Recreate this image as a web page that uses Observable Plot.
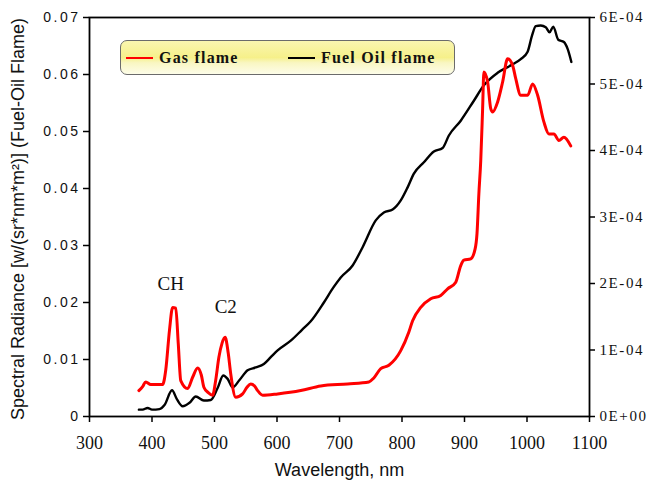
<!DOCTYPE html>
<html>
<head>
<meta charset="utf-8">
<script src="https://cdn.jsdelivr.net/npm/d3@7"></script>
<script src="https://cdn.jsdelivr.net/npm/@observablehq/plot@0.6"></script>
<style>
  body { margin: 0; background: #fff; }
  #wrap { position: relative; width: 647px; height: 490px; }
  .legend {
    position: absolute; left: 120px; top: 40px; width: 333px; height: 33px;
    border: 1.5px solid #6b6b6b; border-radius: 7px;
    background: linear-gradient(to bottom, #faf6b0 0%, #f6f08a 50%, #f9f6c2 66%, #fdfde9 100%);
    font-family: "Liberation Serif", serif; font-weight: bold; font-size: 16px; letter-spacing: 1.2px;
    color: #111;
  }
  .legend .item { position: absolute; top: 0; height: 33px; display: flex; align-items: center; white-space: nowrap; }
  .legend .swatch { display: inline-block; width: 27px; height: 0; border-top: 2.5px solid; margin-right: 6px; }
</style>
</head>
<body>
<div id="wrap"></div>
<script>
// Fuel-oil flame spectrum (left axis, w/(sr*nm*m^2))
const fuelWavelength = [379, 385, 393, 400, 412, 420, 432, 440, 449, 460, 470, 483, 494, 505, 514, 521, 529, 540, 553, 566,
  579, 590, 601, 622, 640, 654, 675, 690, 702, 721, 737, 758, 771, 785, 798, 809, 819, 835, 851, 865,
  875, 894, 915, 931, 953, 974, 990, 1001, 1008, 1014, 1022, 1030, 1036, 1042, 1050, 1059, 1065, 1071];
const fuelRadiance = [0.0012, 0.0012, 0.0015, 0.0012, 0.0013, 0.0020, 0.0046, 0.0030, 0.0018, 0.0024, 0.0035, 0.0028, 0.0029, 0.0050, 0.0072, 0.0066, 0.0051, 0.0064, 0.0081, 0.0086,
  0.0092, 0.0104, 0.0116, 0.0133, 0.0152, 0.0167, 0.0200, 0.0226, 0.0244, 0.0265, 0.0297, 0.0344, 0.0358, 0.0363, 0.0379, 0.0402, 0.0426, 0.0446, 0.0465, 0.0471,
  0.0493, 0.0519, 0.0554, 0.0581, 0.0603, 0.0616, 0.0627, 0.0640, 0.0668, 0.0685, 0.0686, 0.0683, 0.0674, 0.0684, 0.0661, 0.0657, 0.0645, 0.0622];

// Gas flame spectrum (right axis)
const gasWavelength = [379, 385, 390, 398, 417, 422, 428, 433, 438, 442, 446, 457, 465, 473, 479, 483, 490, 497, 502, 507,
  512, 517, 522, 526, 534, 545, 552, 558, 564, 569, 577, 601, 638, 670, 713, 747, 755, 766, 779, 798,
  811, 817, 830, 846, 862, 873, 886, 894, 899, 910, 917, 920, 923, 926, 929, 931, 937, 942, 945, 953,
  961, 969, 977, 982, 990, 1001, 1009, 1017, 1027, 1035, 1043, 1051, 1059, 1070];
const gasRadiance = [0.39e-4, 0.45e-4, 0.52e-4, 0.48e-4, 0.48e-4, 0.70e-4, 1.30e-4, 1.64e-4, 1.63e-4, 1.10e-4, 0.54e-4, 0.42e-4, 0.59e-4, 0.73e-4, 0.62e-4, 0.44e-4, 0.36e-4, 0.32e-4, 0.55e-4, 0.89e-4,
  1.10e-4, 1.19e-4, 0.95e-4, 0.64e-4, 0.29e-4, 0.34e-4, 0.44e-4, 0.49e-4, 0.46e-4, 0.39e-4, 0.32e-4, 0.34e-4, 0.39e-4, 0.46e-4, 0.49e-4, 0.52e-4, 0.58e-4, 0.72e-4, 0.77e-4, 0.99e-4,
  1.27e-4, 1.44e-4, 1.64e-4, 1.77e-4, 1.82e-4, 1.92e-4, 2.02e-4, 2.27e-4, 2.35e-4, 2.37e-4, 2.52e-4, 2.75e-4, 3.35e-4, 3.85e-4, 4.63e-4, 5.18e-4, 5.03e-4, 4.63e-4, 4.58e-4, 4.73e-4,
  5.03e-4, 5.38e-4, 5.28e-4, 5.08e-4, 4.83e-4, 4.83e-4, 5.00e-4, 4.83e-4, 4.43e-4, 4.25e-4, 4.25e-4, 4.15e-4, 4.20e-4, 4.07e-4];

// Axis ticks
const xTicks = [300, 400, 500, 600, 700, 800, 900, 1000, 1100];
const leftTicks = [0, 0.01, 0.02, 0.03, 0.04, 0.05, 0.06, 0.07];
const rightTicks = [0, 1e-4, 2e-4, 3e-4, 4e-4, 5e-4, 6e-4];
const rightTickLabels = ["0E+00", "1E-04", "2E-04", "3E-04", "4E-04", "5E-04", "6E-04"];

// Emission band labels
const bandNames = ["CH", "C2"];
const bandWavelength = [430, 518];
const bandRadiance = [0.0233, 0.0192];

const leftMax = 0.07, rightMax = 6e-4;
const ratio = leftMax / rightMax; // maps gas radiance onto the left scale

const fuel = fuelWavelength.map((w, i) => ({w, v: fuelRadiance[i]}));
const gas = gasWavelength.map((w, i) => ({w, v: gasRadiance[i]}));
const bands = bandNames.map((name, i) => ({name, w: bandWavelength[i], v: bandRadiance[i]}));

const chart = Plot.plot({
  width: 647,
  height: 490,
  marginLeft: 89,
  marginRight: 58,
  marginTop: 17,
  marginBottom: 74,
  style: {background: "#fff", overflow: "visible"},
  x: {domain: [300, 1100]},
  y: {domain: [0, leftMax]},
  marks: [
    Plot.axisY({ticks: leftTicks, tickSize: 6, tickPadding: 3, tickFormat: d => d === 0 ? "0" : d.toFixed(2),
      fontSize: 14, fontFamily: "Liberation Sans", fill: "#111", label: null, strokeWidth: 1.5}),
    Plot.axisY({anchor: "right", ticks: rightTicks.map(v => v * ratio), tickSize: 5, tickPadding: 5,
      tickFormat: d => rightTickLabels[Math.round(d / ratio / 1e-4)],
      fontSize: 15, fontFamily: "Liberation Serif", fill: "#111", label: null, strokeWidth: 1.5}),
    Plot.axisX({ticks: xTicks, tickSize: 6, tickPadding: 14, tickFormat: d => String(d),
      fontSize: 18, fontFamily: "Liberation Serif", fill: "#111", label: null, strokeWidth: 1.5}),
    Plot.frame({stroke: "#000", strokeWidth: 1.8}),
    Plot.line(fuel, {x: "w", y: "v", stroke: "#000", strokeWidth: 2.4, strokeLinejoin: "round", curve: "monotone-x"}),
    Plot.line(gas, {x: "w", y: d => d.v * ratio, stroke: "#ff0000", strokeWidth: 3, strokeLinejoin: "round", curve: "monotone-x"}),
    Plot.text(bands, {x: "w", y: "v", text: "name", fontSize: 19, fontFamily: "Liberation Serif", fill: "#111"}),
    Plot.text(["Wavelength, nm"], {frameAnchor: "bottom", dy: 59, fontSize: 18, fontFamily: "Liberation Sans", fill: "#111"}),
    Plot.text(["Spectral Radiance [w/(sr*nm*m²)] (Fuel-Oil Flame)"], {frameAnchor: "left", textAnchor: "middle", dx: -71, dy: 2, rotate: -90,
      fontSize: 18, fontFamily: "Liberation Sans", fill: "#111"})
  ]
});

// Widen tick label spacing
const s = d3.select(chart);
s.selectAll('g[aria-label="y-axis tick label"]').each(function (_, i) {
  d3.select(this).style("letter-spacing", i === 0 ? "2.5px" : "1.6px");
});

const wrap = document.getElementById("wrap");
wrap.appendChild(chart);

// Legend box
const legend = document.createElement("div");
legend.className = "legend";
legend.innerHTML =
  '<div class="item" style="left:5px"><span class="swatch" style="border-color:#ff0000"></span>Gas flame</div>' +
  '<div class="item" style="left:167px"><span class="swatch" style="border-color:#000"></span>Fuel Oil flame</div>';
wrap.appendChild(legend);
</script>
</body>
</html>
